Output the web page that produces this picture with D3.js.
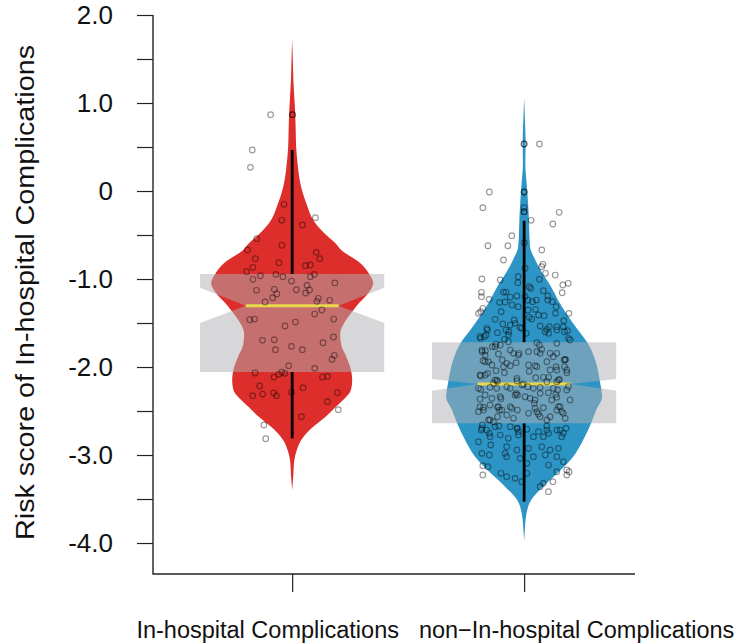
<!DOCTYPE html>
<html>
<head>
<meta charset="utf-8">
<script src="https://cdn.jsdelivr.net/npm/d3@7"></script>
<style>
  body { margin: 0; background: #fff; }
  svg { display: block; font-family: "Liberation Sans", Arial, sans-serif; }
</style>
</head>
<body>
<svg id="chart" width="745" height="644"></svg>
<script>
// categories and tick values
const categories = ["In-hospital Complications", "non\u2212In-hospital Complications"];
const yTickValues = d3.range(-4, 2.001, 0.5);

// violin outlines: score and relative density
const redViolinScore = [1.72, 1.5, 1.26, 1.0, 0.886, 0.7, 0.5, 0.3, 0.125, 0.0, -0.136, -0.364, -0.5, -0.59, -0.67, -0.818, -0.943, -1.045, -1.163, -1.3, -1.4, -1.5, -1.62, -1.75, -1.88, -2.0, -2.15, -2.25, -2.45, -2.56, -2.7, -2.85, -2.93, -3.07, -3.25, -3.4];
const redViolinDensity = [0, 0.008, 0.015, 0.031, 0.038, 0.044, 0.05, 0.069, 0.094, 0.125, 0.175, 0.288, 0.425, 0.538, 0.613, 0.85, 0.963, 1.013, 0.95, 0.81, 0.725, 0.65, 0.6, 0.613, 0.675, 0.725, 0.75, 0.738, 0.55, 0.425, 0.238, 0.1, 0.063, 0.025, 0.013, 0];
const blueViolinScore = [1.06, 0.81, 0.545, 0.32, 0.01, -0.25, -0.44, -0.64, -0.78, -0.93, -1.09, -1.24, -1.39, -1.55, -1.61, -1.72, -1.92, -2.18, -2.34, -2.49, -2.64, -2.83, -3.02, -3.2, -3.36, -3.51, -3.66, -3.89, -3.98];
const blueViolinDensity = [0, 0.01, 0.019, 0.015, 0.038, 0.056, 0.063, 0.075, 0.138, 0.225, 0.338, 0.425, 0.525, 0.65, 0.7, 0.788, 0.888, 0.95, 0.975, 0.9, 0.838, 0.738, 0.613, 0.425, 0.238, 0.088, 0.031, 0.006, 0];

// box statistics per category
const boxQ3 = [-0.943, -1.719];
const boxQ1 = [-2.057, -2.64];
const medians = [-1.303, -2.193];
const notchHigh = [-1.10, -2.136];
const notchLow = [-1.50, -2.269];
const whiskerHigh = [0.466, -0.338];
const whiskerLow = [-2.81, -3.53];

// jittered observations: [x jitter in category units, score]
const redPoints = [[-0.093,0.867],[0.001,0.867],[0.001,0.867],[-0.172,0.466],[-0.180,0.269],[-0.035,-0.151],[0.100,-0.303],[-0.045,-0.333],[0.044,-0.386],[-0.153,-0.542],[-0.044,-0.617],[-0.193,-0.670],[0.104,-0.697],[0.119,-0.769],[-0.159,-0.769],[-0.057,-0.815],[-0.169,-0.867],[0.057,-0.849],[0.078,-0.841],[-0.196,-0.917],[-0.070,-0.947],[-0.137,-0.963],[0.096,-0.947],[-0.040,-0.974],[0.078,-0.974],[-0.169,-1.003],[-0.003,-1.023],[0.064,-1.072],[0.184,-1.045],[-0.154,-1.128],[-0.077,-1.117],[0.018,-1.122],[0.075,-1.125],[0.058,-1.159],[-0.066,-1.170],[-0.084,-1.213],[-0.117,-1.261],[0.113,-1.219],[0.107,-1.253],[0.162,-1.242],[0.128,-1.352],[0.097,-1.398],[-0.183,-1.463],[-0.162,-1.455],[0.014,-1.489],[0.179,-1.455],[-0.031,-1.534],[-0.128,-1.697],[-0.077,-1.690],[0.178,-1.659],[-0.072,-1.803],[-0.003,-1.765],[0.044,-1.803],[0.133,-1.724],[0.182,-1.867],[0.172,-1.913],[-0.015,-1.985],[0.097,-2.015],[-0.160,-2.068],[-0.045,-2.057],[-0.058,-2.083],[-0.078,-2.114],[-0.032,-2.072],[0.131,-2.114],[0.152,-2.106],[-0.140,-2.216],[0.047,-2.235],[-0.170,-2.326],[-0.127,-2.307],[-0.080,-2.295],[-0.068,-2.326],[-0.003,-2.288],[0.195,-2.292],[0.152,-2.394],[0.040,-2.565],[0.199,-2.485],[-0.122,-2.659],[-0.114,-2.815]];

const bluePoints = [[0,0.534],[0,0.534],[0.066,0.534],[0,-0.011],[0,-0.011],[-0.150,-0.011],[-0.178,-0.190],[0,-0.190],[0,-0.235],[0,-0.235],[0.151,-0.242],[0.030,-0.333],[0.124,-0.375],[-0.053,-0.508],[-0.156,-0.622],[-0.070,-0.622],[0.001,-0.588],[0.076,-0.670],[-0.089,-0.784],[0.081,-0.833],[0.076,-0.860],[0.004,-0.878],[0.092,-0.935],[0.134,-0.955],[-0.182,-1.000],[-0.103,-1.011],[0.066,-1.003],[-0.026,-0.974],[-0.027,-1.042],[0.190,-1.049],[0.167,-1.068],[0.164,-1.156],[-0.184,-1.151],[-0.184,-1.201],[-0.078,-1.148],[-0.089,-1.148],[0.022,-1.088],[0.029,-1.106],[-0.151,-1.231],[-0.031,-1.193],[0.004,-1.201],[0.083,-1.133],[0.102,-1.193],[-0.060,-1.205],[-0.106,-1.265],[-0.082,-1.261],[-0.052,-1.295],[-0.025,-1.315],[0.016,-1.239],[0.036,-1.258],[0.053,-1.239],[0.122,-1.258],[-0.178,-1.333],[-0.187,-1.372],[-0.197,-1.390],[-0.099,-1.372],[0.017,-1.352],[0.049,-1.344],[0.138,-1.315],[0.135,-1.390],[0.193,-1.390],[0.062,-1.409],[0.086,-1.417],[-0.125,-1.458],[-0.043,-1.466],[-0.039,-1.503],[0.171,-1.474],[0.109,-1.542],[0.141,-1.542],[-0.161,-1.560],[-0.060,-1.523],[-0.017,-1.549],
  [0.102,-1.239],[0.022,-1.435],[0.033,-1.455],[-0.066,-1.599],[-0.092,-1.511],[-0.188,-1.674],[-0.172,-1.656],[-0.115,-1.610],[-0.010,-1.560],[0.009,-1.617],[0.091,-1.599],[0.106,-1.617],[0.174,-1.599],[0.187,-1.588],[0.198,-1.693],[-0.137,-1.769],[-0.121,-1.739],[-0.085,-1.685],[-0.068,-1.713],[0.055,-1.724],[0.066,-1.750],[0.141,-1.731],[-0.181,-1.826],[-0.167,-1.815],[-0.111,-1.852],[-0.060,-1.807],[-0.022,-1.844],[0.019,-1.826],[0.076,-1.799],[0.112,-1.844],[0.172,-1.920],[0.178,-1.913],[-0.177,-1.928],[-0.168,-1.940],[-0.094,-1.920],[-0.060,-1.985],[-0.034,-1.951],[0.055,-1.997],[0.047,-1.985],[0.098,-1.940],[0.141,-2.034],[0.184,-2.034],[-0.121,-2.042],[0.022,-2.049],[-0.085,-2.065],[-0.168,-2.091],[-0.187,-2.102],[-0.125,-2.148],[-0.115,-2.163],[-0.031,-2.159],[0.050,-2.122],[0.083,-2.117],[0.106,-2.117],[0.152,-2.140],[0.141,-2.167],[-0.009,-2.205],[0.016,-2.224],[-0.118,-2.242],[-0.147,-2.231],[-0.187,-2.253],[-0.060,-2.242],[0.069,-2.231],[0.184,-2.261],[-0.034,-2.299],[-0.029,-2.318],[0.004,-2.338],[0.105,-2.292],[0.137,-2.310],[0.141,-2.344],[-0.100,-2.360],[-0.190,-2.364],[0.198,-2.375],[0.047,-2.375],[0.044,-2.413],[-0.147,-2.432],[-0.115,-2.458],[-0.106,-2.489],[-0.060,-2.451],[-0.175,-2.458],[0.083,-2.463],[0.155,-2.451],[0.141,-2.489],[-0.029,-2.489],[0.019,-2.526],[-0.197,-2.508],[-0.154,-2.602],[-0.115,-2.565],[-0.075,-2.545],[0.062,-2.534],[0.112,-2.565],[0.169,-2.526],[-0.180,-2.659],[-0.185,-2.716],[-0.125,-2.678],[-0.109,-2.670],[-0.060,-2.678],[-0.029,-2.697],[0.012,-2.708],[0.062,-2.735],[0.098,-2.670],[0.141,-2.716],[0.181,-2.697],[-0.150,-2.753],[-0.147,-2.792],[-0.103,-2.773],[-0.068,-2.810],[-0.025,-2.773],[0.040,-2.792],[0.083,-2.792],[0.169,-2.753],[0.162,-2.792],[-0.197,-2.849],[-0.144,-2.886],[-0.075,-2.906],[-0.031,-2.943],[0.019,-2.924],[0.076,-2.906],[0.112,-2.943],[0.148,-2.924],[-0.182,-2.981],[-0.150,-3.000],[-0.082,-2.981],[-0.075,-3.019],[-0.017,-3.038],[0.040,-3.019],[0.091,-3.000],[0.141,-3.019],[0.169,-3.076],[-0.178,-3.122],[-0.156,-3.133],[-0.178,-3.227],[-0.100,-3.208],[-0.075,-3.247],[-0.039,-3.265],[0.012,-3.094],[0.012,-3.208],[0.105,-3.114],[0.141,-3.190],[0.184,-3.170],[0.194,-3.190],[0.184,-3.227],[0.083,-3.322],[0.069,-3.360],[0.124,-3.303],[0.105,-3.417],[-0.010,-3.303],
  [-0.190,-1.656],[-0.164,-1.636],[-0.158,-1.580],[-0.078,-1.580],[-0.068,-1.636],[0.069,-1.534],[0.098,-1.572],[0.141,-1.580],[0.169,-1.542],[0.191,-1.674],[-0.125,-1.769],[-0.103,-1.750],[-0.182,-1.807],[-0.168,-1.864],[-0.046,-1.844],[-0.025,-1.864],[0.055,-1.826],[0.069,-1.844],[0.126,-1.883],[0.141,-1.844],[0.177,-1.920],[0.174,-1.997],[-0.154,-1.940],[-0.139,-1.977],[-0.089,-1.997],[-0.075,-1.958],[0.019,-1.977],[0.112,-2.034],[0.138,-1.997],[0.184,-2.065],[-0.190,-2.091],[-0.158,-2.072],[-0.118,-2.148],[-0.132,-2.185],[-0.031,-2.129],[-0.003,-2.193],[0.098,-2.167],[0.148,-2.148],[-0.197,-2.242],[-0.075,-2.224],[0.040,-2.242],[0.126,-2.242],[0.144,-2.261],[0.191,-2.224],[-0.168,-2.318],[-0.139,-2.356],[-0.103,-2.338],[-0.039,-2.318],[0.026,-2.356],[0.069,-2.299],[0.119,-2.375],[-0.190,-2.451],[-0.175,-2.489],[-0.111,-2.451],[-0.096,-2.489],[-0.053,-2.469],[0.047,-2.469],[0.055,-2.508],[0.148,-2.451],[0.162,-2.508],[-0.147,-2.602],[-0.132,-2.622],[-0.046,-2.583],[0.069,-2.565],[0.098,-2.602],[0.177,-2.583],[-0.182,-2.697],[-0.161,-2.716],[-0.031,-2.697],[-0.025,-2.735],[0.098,-2.716],[0.105,-2.753],[0.155,-2.716]];

const colors = ["#dd2e2b", "#2d95c5"];

const groups = categories.map((name, i) => ({
  name,
  pos: i + 1,
  color: colors[i],
  violin: (i === 0 ? redViolinScore : blueViolinScore).map((s, k) => ({
    score: s,
    density: (i === 0 ? redViolinDensity : blueViolinDensity)[k]
  })),
  q1: boxQ1[i], q3: boxQ3[i], median: medians[i],
  notchHi: notchHigh[i], notchLo: notchLow[i],
  whiskHi: whiskerHigh[i], whiskLo: whiskerLow[i],
  points: i === 0 ? redPoints : bluePoints
}));

const svg = d3.select("#chart");

// plot region
const plotLeft = 153, plotRight = 635, plotTop = 15, plotBottom = 574;

const x = d3.scaleLinear().domain([0.4, 2.478]).range([plotLeft, plotRight]);
const y = d3.scaleLinear().domain([-4.352, 2]).range([plotBottom, plotTop]);
const halfWidth = d3.scaleLinear().domain([0, 1]).range([0, 80]);

const boxHalf = 0.397;   // box half width, category units
const notchHalf = 0.2;   // half width at the notch

// violins
groups.forEach(g => {
  const violinArea = d3.area()
    .curve(d3.curveMonotoneY)
    .y(d => y(d.score))
    .x0(d => x(g.pos) - halfWidth(d.density))
    .x1(d => x(g.pos) + halfWidth(d.density));
  svg.append("path")
    .datum(g.violin)
    .attr("fill", g.color)
    .attr("d", violinArea);
});

// whiskers
groups.forEach(g => {
  svg.append("line")
    .attr("x1", x(g.pos)).attr("x2", x(g.pos))
    .attr("y1", y(g.q3)).attr("y2", y(g.whiskHi))
    .attr("stroke", "#000").attr("stroke-width", 2.8);
  svg.append("line")
    .attr("x1", x(g.pos)).attr("x2", x(g.pos))
    .attr("y1", y(g.q1)).attr("y2", y(g.whiskLo))
    .attr("stroke", "#000").attr("stroke-width", 2.8);
});

// notched boxes, semi transparent gray
groups.forEach(g => {
  const c = g.pos;
  const pts = [
    [c - boxHalf, g.q3], [c + boxHalf, g.q3], [c + boxHalf, g.notchHi],
    [c + notchHalf, g.median], [c + boxHalf, g.notchLo], [c + boxHalf, g.q1],
    [c - boxHalf, g.q1], [c - boxHalf, g.notchLo], [c - notchHalf, g.median],
    [c - boxHalf, g.notchHi]
  ];
  svg.append("path")
    .attr("d", d3.line().x(p => x(p[0])).y(p => y(p[1]))(pts) + "Z")
    .attr("fill", "rgb(176,176,180)")
    .attr("fill-opacity", 0.5);

  svg.append("line")
    .attr("x1", x(c - notchHalf)).attr("x2", x(c + notchHalf))
    .attr("y1", y(g.median)).attr("y2", y(g.median))
    .attr("stroke", "#e9d84a").attr("stroke-width", 3);
});

// jittered points
groups.forEach(g => {
  svg.append("g")
    .selectAll("circle")
    .data(g.points)
    .join("circle")
    .attr("cx", d => x(g.pos + d[0]))
    .attr("cy", d => y(d[1]))
    .attr("r", 2.8)
    .attr("fill", "none")
    .attr("stroke", "#000")
    .attr("stroke-opacity", 0.4)
    .attr("stroke-width", 1.2);
});

// y axis
const yAxis = svg.append("g")
  .attr("transform", `translate(${plotLeft},0)`)
  .call(d3.axisLeft(y)
    .tickValues(yTickValues)
    .tickSize(16)
    .tickPadding(24)
    .tickFormat(v => Number.isInteger(v) ? (v === 0 ? "0" : v.toFixed(1)) : ""));
yAxis.select(".domain").remove();
yAxis.selectAll(".tick line").attr("stroke", "#222").attr("stroke-width", 1.2);
yAxis.selectAll(".tick text")
  .attr("fill", "#111")
  .style("font-size", "26px");

// x axis
const labelShift = [-25, 52];
const xAxis = svg.append("g")
  .attr("transform", `translate(0,${plotBottom})`)
  .call(d3.axisBottom(x)
    .tickValues(groups.map(g => g.pos))
    .tickSize(18)
    .tickFormat((d, i) => categories[i]));
xAxis.select(".domain").remove();
xAxis.selectAll(".tick line").attr("stroke", "#222").attr("stroke-width", 1.2);
xAxis.selectAll(".tick text")
  .attr("fill", "#111")
  .attr("y", 64)
  .attr("dy", 0)
  .attr("dx", (d, i) => labelShift[i])
  .style("font-size", "23.5px");

// L-shaped frame
svg.append("path")
  .attr("d", `M${plotLeft},${y(2)}V${plotBottom}H${plotRight}`)
  .attr("fill", "none")
  .attr("stroke", "#222")
  .attr("stroke-width", 1.4);

// y title
svg.append("text")
  .attr("transform", `translate(34,${(45 + 540) / 2}) rotate(-90)`)
  .attr("text-anchor", "middle")
  .attr("fill", "#111")
  .attr("textLength", 495)
  .attr("lengthAdjust", "spacingAndGlyphs")
  .style("font-size", "26px")
  .text("Risk score of In-hospital Complications");
</script>
</body>
</html>
